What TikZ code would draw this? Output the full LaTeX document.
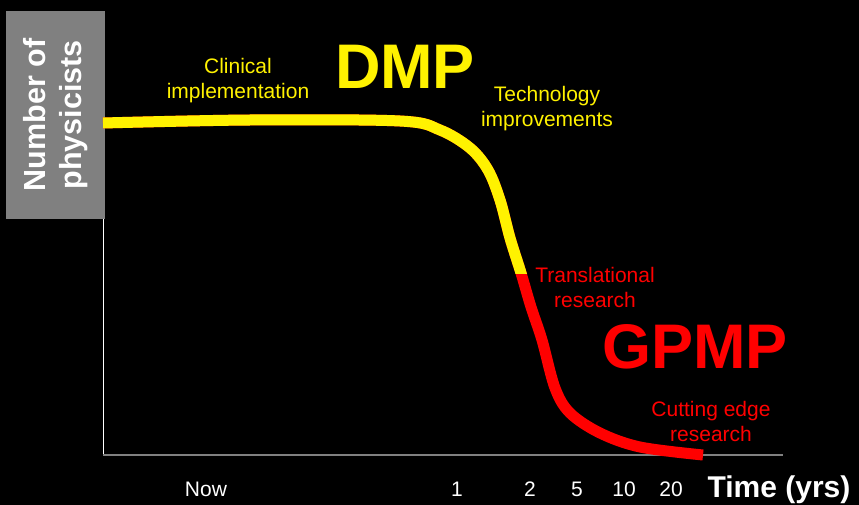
\documentclass[tikz,border=0pt]{standalone}
\usepackage{fontspec}
\setmainfont{Liberation Sans}
\usetikzlibrary{positioning}

\begin{document}
\begin{tikzpicture}[x=1pt,y=-1pt,
  lbl/.style={inner sep=0pt,align=center,font=\fontsize{21}{25}\selectfont},
  big/.style={inner sep=0pt,font=\bfseries\fontsize{63}{70}\selectfont},
  tick/.style={inner sep=0pt,text=white,font=\fontsize{21}{25}\selectfont}]
  \fill[black] (0,0) rectangle (859,505);
  \useasboundingbox (0,0) rectangle (859,505);
  % axes
  \coordinate (origin) at (103,455);
  \coordinate (ytop) at (103,219);
  \coordinate (xend) at (783,455);
  \draw[white,line width=1pt] (origin)--(ytop);
  \draw[gray,line width=2pt] (origin)--(xend);
  % y label
  \node[fill=gray,rotate=90,minimum width=208,minimum height=99,inner sep=0pt,
    text=white,align=center,font=\bfseries\fontsize{30.5}{36}\selectfont]
    (ylabel) at (55.5,115) {Number of\\physicists};
  % curve, red below the switch, yellow above
  \def\curve{plot[smooth,tension=0.55] coordinates {(103,123) (250,120) (400,121)
    (440,130) (470,148) (488,170) (500,200) (510,238) (521,273) (531,307)
    (542,340) (555,388) (570,413) (600,433) (640,447) (703,455)}}
  \draw[red,line width=11pt] \curve;
  \begin{scope}
    \clip (0,0) rectangle (859,273);
    \draw[yellow,line width=11pt] \curve;
  \end{scope}
  % labels
  \node[lbl,text=yellow] (clinical) at (238,81) {Clinical\\implementation};
  \node[big,text=yellow] (dmp) at (405,67) {DMP};
  \node[lbl,text=yellow] (tech) at (547,109) {Technology\\improvements};
  \node[lbl,text=red] (transl) at (595,287) {Translational\\research};
  \node[big,text=red] (gpmp) at (695,347) {GPMP};
  \node[lbl,text=red] (cutting) at (711,421) {Cutting edge\\research};
  % time ticks
  \node[tick] (now) at (206,489) {Now};
  \node[tick] (t1) at (457,489) {1};
  \node[tick] (t2) at (530,489) {2};
  \node[tick] (t5) at (577,489) {5};
  \node[tick] (t10) at (624,489) {10};
  \node[tick] (t20) at (671,489) {20};
  \node[tick,font=\bfseries\fontsize{30}{34}\selectfont] (time) at (779,490) {Time (yrs)};
\end{tikzpicture}
\end{document}
